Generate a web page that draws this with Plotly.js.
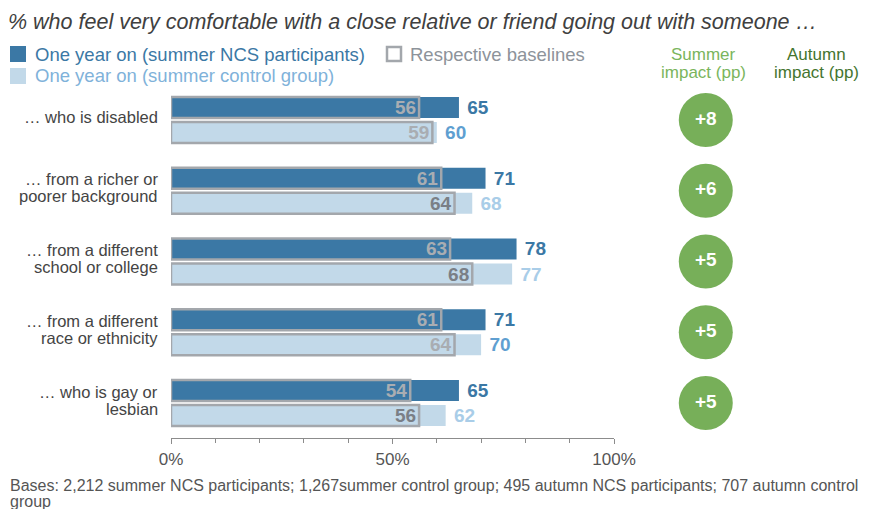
<!DOCTYPE html>
<html>
<head>
<meta charset="utf-8">
<script src="https://cdn.plot.ly/plotly-3.0.1.min.js"></script>
<style>html,body{margin:0;padding:0;background:#fff;}#chart{width:870px;height:509px;}</style>
</head>
<body>
<div id="chart"></div>
<script>
// ---- data ----
const categories = [
  '… who is disabled',
  '… from a richer or<br>poorer background',
  '… from a different<br>school or college',
  '… from a different<br>race or ethnicity',
  '… who is gay or<br>lesbian'
];
const ncsOneYear      = [65, 71, 78, 71, 65];
const ncsBaseline     = [56, 61, 63, 61, 54];
const controlOneYear  = [60, 68, 77, 70, 62];
const controlBaseline = [59, 64, 68, 64, 56];
const summerImpact    = [8, 6, 5, 5, 5];
const xTickValues     = [0, 50, 100];
const xTickLabels     = ['0%', '50%', '100%'];

// ---- styles ----
const DARK = '#3b78a5', LIGHT = '#c2d9e9', OUTLINE = '#a3a7ac', GREEN = '#77af59';
const controlLabelColors  = ['#5f9fd1', '#a9cde8', '#a9cde8', '#5f9fd1', '#a9cde8'];
const ncsBaseLabelColors  = ['#a9adb2', '#a9adb2', '#a9adb2', '#a9adb2', '#a9adb2'];
const ctlBaseLabelColors  = ['#a9adb2', '#7a7f86', '#7a7f86', '#a9adb2', '#7a7f86'];
const FONT = 'Liberation Sans, Arial, sans-serif';
const PAD = '\u00a0';

const traces = [
  {type:'bar', orientation:'h', y:categories, x:ncsOneYear, offsetgroup:'ncs',
   marker:{color:DARK, line:{width:0}}, text:ncsOneYear.map(v=>PAD+v), textposition:'outside',
   textfont:{family:FONT, size:19, color:DARK, weight:'bold'}, cliponaxis:false, hoverinfo:'skip'},
  {type:'bar', orientation:'h', y:categories, x:controlOneYear, offsetgroup:'ctl',
   marker:{color:LIGHT, line:{width:0}}, text:controlOneYear.map(v=>PAD+v), textposition:'outside',
   textfont:{family:FONT, size:19, color:controlLabelColors, weight:'bold'}, cliponaxis:false, hoverinfo:'skip'},
  {type:'bar', orientation:'h', y:categories, x:ncsBaseline, offsetgroup:'ncs',
   marker:{color:'rgba(0,0,0,0)', line:{color:OUTLINE, width:2.5}}, text:ncsBaseline.map(String),
   textposition:'inside', insidetextanchor:'end', constraintext:'none', textangle:0,
   textfont:{family:FONT, size:19, color:ncsBaseLabelColors, weight:'bold'}, cliponaxis:false, hoverinfo:'skip'},
  {type:'bar', orientation:'h', y:categories, x:controlBaseline, offsetgroup:'ctl',
   marker:{color:'rgba(0,0,0,0)', line:{color:OUTLINE, width:2.5}}, text:controlBaseline.map(String),
   textposition:'inside', insidetextanchor:'end', constraintext:'none', textangle:0,
   textfont:{family:FONT, size:19, color:ctlBaseLabelColors, weight:'bold'}, cliponaxis:false, hoverinfo:'skip'},
  {type:'scatter', mode:'markers+text', xaxis:'x2', yaxis:'y', y:categories,
   x:summerImpact.map(()=>0.31), marker:{size:54, color:GREEN, line:{width:0}},
   text:summerImpact.map(v=>'+'+v), textposition:'middle center',
   textfont:{family:FONT, size:19, color:'#ffffff', weight:'bold'}, cliponaxis:false, hoverinfo:'skip'}
];

const px = v => v/870, py = v => 1 - v/509;

// category labels as per-line annotations (tight line spacing like the reference)
const catAnnotations = [];
categories.forEach(c => {
  const lines = c.split('<br>');
  const n = lines.length;
  lines.forEach((ln, i) => {
    catAnnotations.push({text:ln, xref:'paper', yref:'y', x:px(160), y:c, xanchor:'right', yanchor:'middle',
      yshift:((n-1)/2 - i)*17 + 3, showarrow:false, font:{family:FONT, size:16.5, color:'#444'}});
  });
});

const hdr = (t, x, y, col) => ({text:t, xref:'paper', yref:'paper', x:px(x), y:py(y), xanchor:'center', yanchor:'middle', showarrow:false, font:{family:FONT, size:17, color:col}});

const layout = {
  width:870, height:509, margin:{l:0, r:0, t:0, b:0},
  paper_bgcolor:'#fff', plot_bgcolor:'#fff', showlegend:false,
  barmode:'group', bargap:0.293, bargroupgap:0.16,
  font:{family:FONT, color:'#444'},
  title:{text:'<i>% who feel very comfortable with a close relative or friend going out with someone …</i>',
         x:px(8), xanchor:'left', xref:'container', y:py(21), yanchor:'middle', yref:'container',
         font:{family:FONT, size:21.5, color:'#404040'}},
  xaxis:{domain:[px(171), px(614)], range:[0,100], tickmode:'array', tickvals:xTickValues, ticktext:xTickLabels,
         showgrid:false, zeroline:false, showline:true, linecolor:'#8c8c8c', linewidth:1,
         ticks:'outside', ticklen:5, tickcolor:'#8c8c8c',
         minor:{dtick:10, ticks:'outside', ticklen:3.5, tickcolor:'#8c8c8c'},
         tickfont:{family:FONT, size:17, color:'#555'}, fixedrange:true},
  xaxis2:{domain:[px(632), 1], range:[0,1], anchor:'y', visible:false, fixedrange:true},
  yaxis:{domain:[1-438.4/509, 1-84.6/509], type:'category', range:[4.5, -0.5], autorange:false,
         showgrid:false, zeroline:false, showline:false, ticks:'', showticklabels:false, fixedrange:true},
  shapes:[
    {type:'rect', xref:'paper', yref:'paper', x0:px(10), x1:px(26), y0:py(62), y1:py(46), fillcolor:DARK, line:{width:0}},
    {type:'rect', xref:'paper', yref:'paper', x0:px(387), x1:px(401), y0:py(61), y1:py(47), fillcolor:'#fff', line:{color:OUTLINE, width:2.5}},
    {type:'rect', xref:'paper', yref:'paper', x0:px(10), x1:px(26), y0:py(84), y1:py(68), fillcolor:LIGHT, line:{width:0}}
  ],
  annotations:[
    {text:'One year on (summer NCS participants)', xref:'paper', yref:'paper', x:px(33), y:py(54), xanchor:'left', yanchor:'middle', showarrow:false, font:{family:FONT, size:18.5, color:DARK}},
    {text:'Respective baselines', xref:'paper', yref:'paper', x:px(408), y:py(54), xanchor:'left', yanchor:'middle', showarrow:false, font:{family:FONT, size:18.5, color:'#8d939a'}},
    {text:'One year on (summer control group)', xref:'paper', yref:'paper', x:px(33), y:py(76), xanchor:'left', yanchor:'middle', showarrow:false, font:{family:FONT, size:18.5, color:'#7fb2da'}},
    hdr('Summer', 703, 54, '#7ab55c'), hdr('impact (pp)', 703, 72, '#7ab55c'),
    hdr('Autumn', 816, 54, '#44752f'), hdr('impact (pp)', 816, 72, '#44752f'),
    {text:'Bases: 2,212 summer NCS participants; 1,267summer control group; 495 autumn NCS participants; 707 autumn control', xref:'paper', yref:'paper', x:px(8), y:py(485), xanchor:'left', yanchor:'middle', align:'left', showarrow:false, font:{family:FONT, size:16, color:'#555'}},
    {text:'group', xref:'paper', yref:'paper', x:px(8), y:py(501), xanchor:'left', yanchor:'middle', align:'left', showarrow:false, font:{family:FONT, size:16, color:'#555'}}
  ].concat(catAnnotations)
};

Plotly.newPlot('chart', traces, layout, {displayModeBar:false, staticPlot:true});
</script>
</body>
</html>
